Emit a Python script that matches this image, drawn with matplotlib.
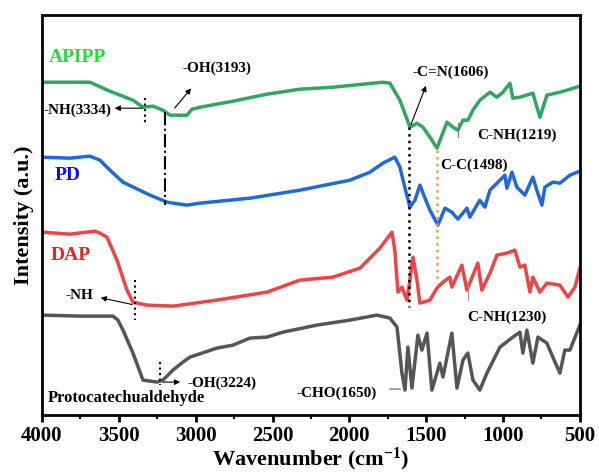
import matplotlib
matplotlib.use("Agg")
import matplotlib.pyplot as plt
from matplotlib.ticker import MultipleLocator

plt.rcParams["font.family"] = ["Liberation Serif", "DejaVu Serif"]
plt.rcParams["font.weight"] = "bold"
plt.rcParams["axes.labelweight"] = "bold"
plt.rcParams["mathtext.default"] = "regular"

# FTIR spectra (wavenumber in cm-1, intensity in arbitrary units, offset stacked)
apipp_wn = [4000, 3753, 3688, 3558, 3408, 3343, 3278, 3213, 3167, 3057, 3024, 2972, 2757, 2536,
            2322, 2107, 1782, 1736, 1671, 1606, 1560, 1521, 1476, 1430, 1365, 1326, 1294, 1261,
            1229, 1196, 1151, 1085, 1040, 1001, 955, 936, 890, 806, 760, 715, 630, 585, 500]
apipp_int = [333, 333, 333, 324, 315, 308, 309, 305, 300, 300, 306, 308, 314, 321,
             326, 328, 333, 332, 315, 288, 292, 288, 278, 267, 293, 288, 285, 295,
             295, 305, 315, 323, 318, 323, 332, 317, 318, 322, 298, 320, 323, 325, 329]

pd_wn = [4000, 3818, 3688, 3623, 3558, 3473, 3297, 3187, 3057, 2972, 2647, 2322, 1996, 1866,
         1782, 1704, 1671, 1638, 1606, 1573, 1541, 1508, 1476, 1424, 1378, 1333, 1294, 1235,
         1216, 1151, 1118, 1085, 1020, 988, 975, 942, 910, 858, 806, 780, 747, 728, 676, 630,
         565, 500]
pd_int = [258, 257, 259, 255, 245, 233, 220, 213, 210, 212, 217, 225, 235, 243,
          252, 258, 248, 227, 208, 215, 230, 217, 205, 190, 207, 203, 196, 207,
          198, 215, 208, 225, 235, 240, 227, 243, 228, 220, 238, 225, 210, 228, 233, 232,
          240, 244]

dap_wn = [4000, 3818, 3655, 3623, 3577, 3512, 3447, 3408, 3317, 3148, 2862, 2536, 2322, 2107,
          1931, 1866, 1801, 1723, 1704, 1684, 1658, 1625, 1606, 1586, 1560, 1541, 1476, 1430,
          1398, 1346, 1333, 1268, 1235, 1164, 1138, 1085, 1040, 975, 923, 890, 858, 825, 806,
          760, 715, 630, 578, 532, 500]
dap_int = [183, 181, 184, 182, 178, 155, 125, 113, 110, 109, 115, 123, 135, 138,
           147, 157, 167, 183, 165, 123, 128, 115, 135, 158, 135, 112, 115, 127,
           132, 138, 128, 150, 125, 152, 125, 142, 160, 162, 165, 148, 150, 123, 138,
           123, 132, 130, 118, 128, 147]

pca_wn = [4000, 3753, 3538, 3506, 3473, 3408, 3343, 3252, 3213, 3148, 3083, 3037, 2862, 2757,
          2647, 2536, 2432, 2211, 1996, 1821, 1736, 1690, 1658, 1638, 1619, 1593, 1554, 1528,
          1495, 1463, 1411, 1391, 1333, 1300, 1261, 1229, 1196, 1151, 1105, 1020, 936, 890,
          871, 845, 806, 773, 715, 676, 630, 598, 565, 500]
pca_int = [100, 99, 99, 95, 85, 62, 35, 33, 35, 45, 53, 58, 67, 70,
           77, 78, 83, 90, 95, 100, 97, 88, 42, 25, 68, 27, 80, 65,
           82, 25, 52, 38, 82, 27, 55, 62, 35, 25, 42, 68, 78, 83,
           62, 85, 52, 78, 72, 58, 42, 65, 65, 90]

fig = plt.figure(figsize=(5.99, 4.76), dpi=100)
ax = fig.add_axes([0.0701, 0.128, 0.898, 0.84])

ax.plot(apipp_wn, apipp_int, color="#2ea860", lw=2.5)
ax.plot(pd_wn, pd_int, color="#1f68e0", lw=2.5)
ax.plot(dap_wn, dap_int, color="#f04444", lw=2.5)
ax.plot(pca_wn, pca_int, color="#555555", lw=2.5)

# sample names
ax.text(3772, 358, "APIPP", color="#22dd33", fontsize=14, ha="center", va="center")
ax.text(3834, 240, "PD", color="#1010ee", fontsize=14, ha="center", va="center")
ax.text(3811, 160, "DAP", color="#ee2222", fontsize=14, ha="center", va="center")
ax.text(3961, 17, "Protocatechualdehyde", fontsize=12, ha="left", va="center")

# peak guide lines
ax.plot([3330, 3330], [317, 292], color="black", ls=":", lw=1.5)
ax.plot([3200, 3200], [303, 210], color="black", ls="-.", lw=1.5)
ax.plot([1612, 1612], [288, 108], color="black", ls=":", lw=1.8)
ax.plot([1430, 1430], [265, 132], color="#ff9933", ls=":", lw=1.8)
ax.plot([3395, 3395], [135, 95], color="black", ls=":", lw=1.5)
ax.plot([3232, 3232], [53, 30], color="black", ls=":", lw=1.5)
ax.plot([1294, 1294], [292, 278], color="#777777", lw=0.8)
ax.plot([1229, 1229], [132, 115], color="#999999", lw=0.8)

# peak labels
ax.text(3083, 347, "-OH(3193)", fontsize=11, ha="left", va="center")
ax.text(3987, 305, "-NH(3334)", fontsize=11, ha="left", va="center")
ax.text(1586, 343, "-C=N(1606)", fontsize=11, ha="left", va="center")
ax.text(1411, 250, "C-C(1498)", fontsize=11, ha="left", va="center")
ax.text(1170, 280, "C-NH(1219)", fontsize=11, ha="left", va="center")
ax.text(1235, 98, "C-NH(1230)", fontsize=11, ha="left", va="center")
ax.text(3850, 120, "-NH", fontsize=11, ha="left", va="center")
ax.text(3050, 32, "-OH(3224)", fontsize=11, ha="left", va="center")
ax.text(2341, 22, "-CHO(1650)", fontsize=11, ha="left", va="center")

arrow = dict(arrowstyle="-|>", color="black", lw=0.8, mutation_scale=8)
ax.annotate("", xy=(3018, 329), xytext=(3148, 305), arrowprops=arrow)
ax.annotate("", xy=(3545, 307), xytext=(3330, 307), arrowprops=arrow)
ax.annotate("", xy=(1495, 332), xytext=(1606, 288), arrowprops=arrow)
ax.annotate("", xy=(3636, 118), xytext=(3395, 110), arrowprops=arrow)
ax.annotate("", xy=(3083, 33), xytext=(3232, 33), arrowprops=arrow)
ax.annotate("", xy=(1756, 26), xytext=(1651, 26), arrowprops=dict(arrowstyle="-", color="#555555", lw=0.8))

ax.set_xlim(4000, 500)
ax.set_ylim(0, 400)
ax.xaxis.set_major_locator(MultipleLocator(500))
ax.xaxis.set_minor_locator(MultipleLocator(250))
ax.set_yticks([])
ax.tick_params(axis="x", which="major", direction="out", length=5, width=2, labelsize=15, pad=3)
ax.tick_params(axis="x", which="minor", direction="out", length=3, width=1.5)
for s in ax.spines.values():
    s.set_linewidth(2)

ax.set_xlabel("Wavenumber (cm$^{-1}$)", fontsize=16, labelpad=0)
ax.set_ylabel("Intensity (a.u.)", fontsize=16, labelpad=6)

plt.savefig("out.png", dpi=100)
